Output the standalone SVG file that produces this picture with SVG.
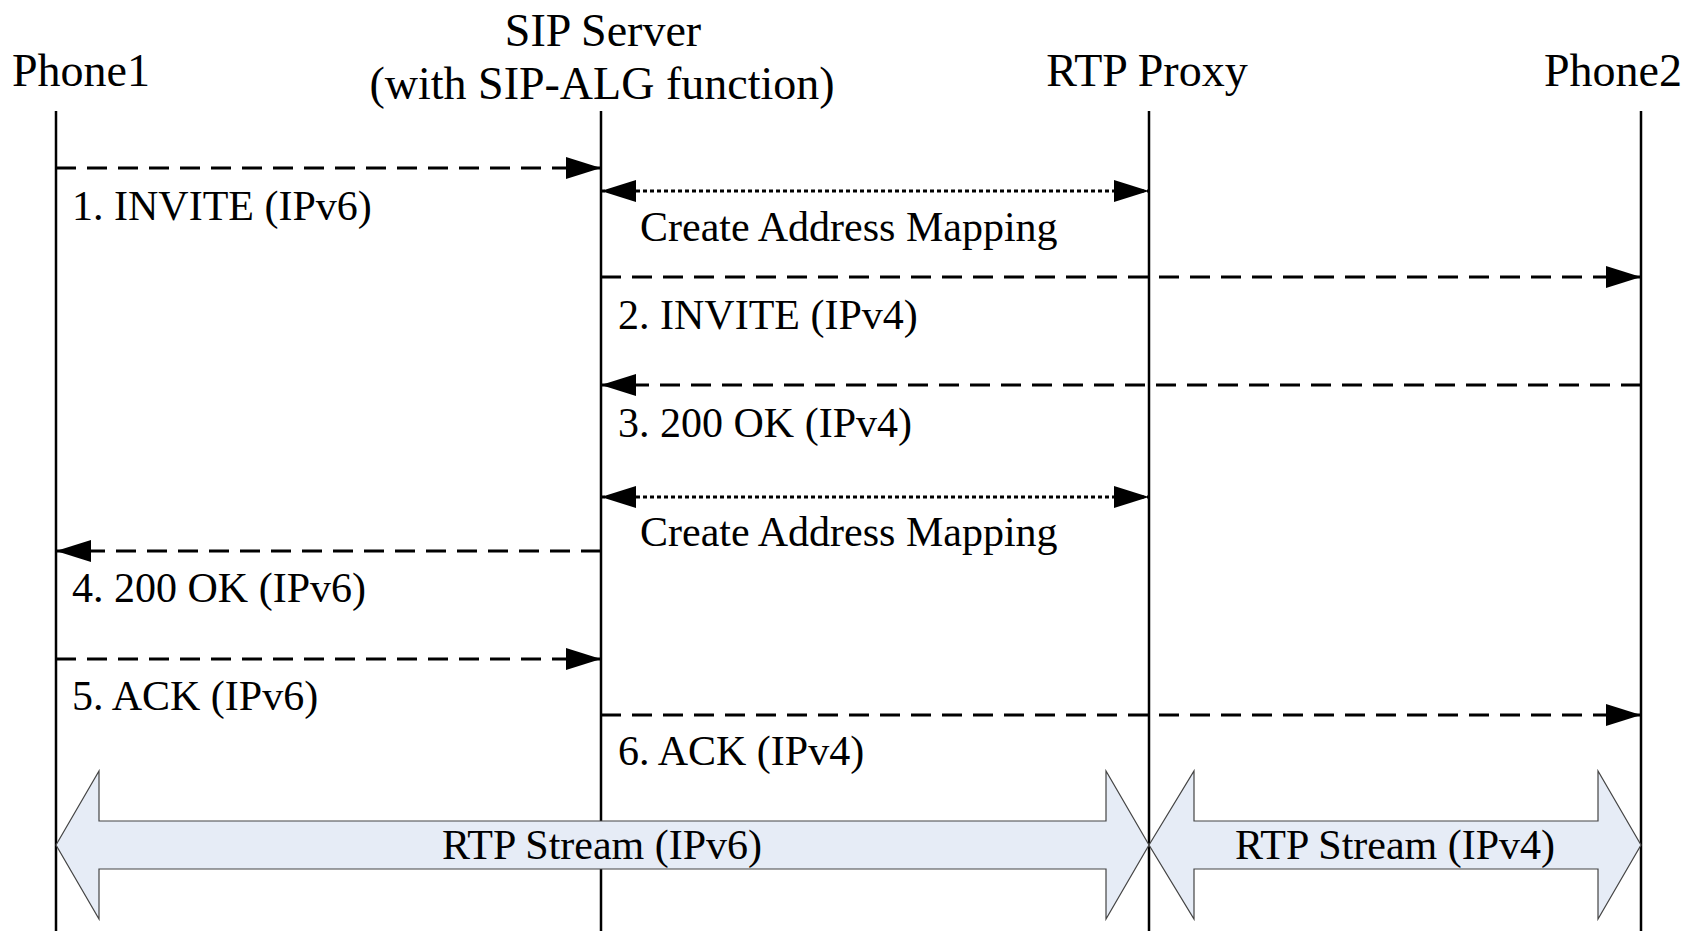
<svg xmlns="http://www.w3.org/2000/svg" width="1690" height="931" viewBox="0 0 1690 931">
<style>
text{font-family:"Liberation Serif","Times New Roman",serif;fill:#000}
.h{font-size:46px;text-anchor:middle}
.l{font-size:42px}
.life{stroke:#000;stroke-width:2.5;fill:none}
.dash{stroke:#000;stroke-width:3;stroke-dasharray:20 11;fill:none}
.dot{stroke:#000;stroke-width:3;stroke-dasharray:4 3;fill:none}
.blk{fill:#e6ecf6;stroke:#444;stroke-width:1.2}
</style>
<defs>
<marker id="ah" viewBox="0 0 35 22" refX="35" refY="11" markerWidth="35" markerHeight="22" markerUnits="userSpaceOnUse" orient="auto-start-reverse">
<path d="M0,0 L35,11 L0,22 Z" fill="#000"/>
</marker>
</defs>
<rect width="1690" height="931" fill="#fff"/>
<g id="phone1"><text class="h" x="81" y="86">Phone1</text><line class="life" x1="56" y1="111" x2="56" y2="931"/></g>
<g id="sipserver"><text class="h" x="603" y="46">SIP Server</text><text class="h" x="602" y="99">(with SIP-ALG function)</text><line class="life" x1="601" y1="111" x2="601" y2="931"/></g>
<g id="rtpproxy"><text class="h" x="1147" y="86">RTP Proxy</text><line class="life" x1="1149" y1="111" x2="1149" y2="931"/></g>
<g id="phone2"><text class="h" x="1613" y="86">Phone2</text><line class="life" x1="1641" y1="111" x2="1641" y2="931"/></g>
<g id="connectors">
<line class="dash" x1="56" y1="168" x2="601" y2="168" marker-end="url(#ah)"/>
<text class="l" x="72" y="220">1. INVITE (IPv6)</text>
<line class="dot" x1="601" y1="191" x2="1149" y2="191" marker-start="url(#ah)" marker-end="url(#ah)"/>
<text class="l" x="640" y="241">Create Address Mapping</text>
<line class="dash" x1="601" y1="277" x2="1641" y2="277" marker-end="url(#ah)"/>
<text class="l" x="618" y="329">2. INVITE (IPv4)</text>
<line class="dash" x1="1641" y1="385" x2="601" y2="385" marker-end="url(#ah)"/>
<text class="l" x="618" y="437">3. 200 OK (IPv4)</text>
<line class="dot" x1="601" y1="497" x2="1149" y2="497" marker-start="url(#ah)" marker-end="url(#ah)"/>
<text class="l" x="640" y="546">Create Address Mapping</text>
<line class="dash" x1="601" y1="551" x2="56" y2="551" marker-end="url(#ah)"/>
<text class="l" x="72" y="602">4. 200 OK (IPv6)</text>
<line class="dash" x1="56" y1="659" x2="601" y2="659" marker-end="url(#ah)"/>
<text class="l" x="72" y="710">5. ACK (IPv6)</text>
<line class="dash" x1="601" y1="715" x2="1641" y2="715" marker-end="url(#ah)"/>
<text class="l" x="618" y="765">6. ACK (IPv4)</text>
</g>
<g id="rtp-ipv6">
<path class="blk" d="M56,845 L99,771 L99,821 L1106,821 L1106,771 L1149,845 L1106,919 L1106,869 L99,869 L99,919 Z"/>
<text class="h" x="602" y="859" style="font-size:42px">RTP Stream (IPv6)</text>
</g>
<g id="rtp-ipv4">
<path class="blk" d="M1149,845 L1194,771 L1194,821 L1598,821 L1598,771 L1641,845 L1598,919 L1598,869 L1194,869 L1194,919 Z"/>
<text class="h" x="1395" y="859" style="font-size:42px">RTP Stream (IPv4)</text>
</g>
</svg>
